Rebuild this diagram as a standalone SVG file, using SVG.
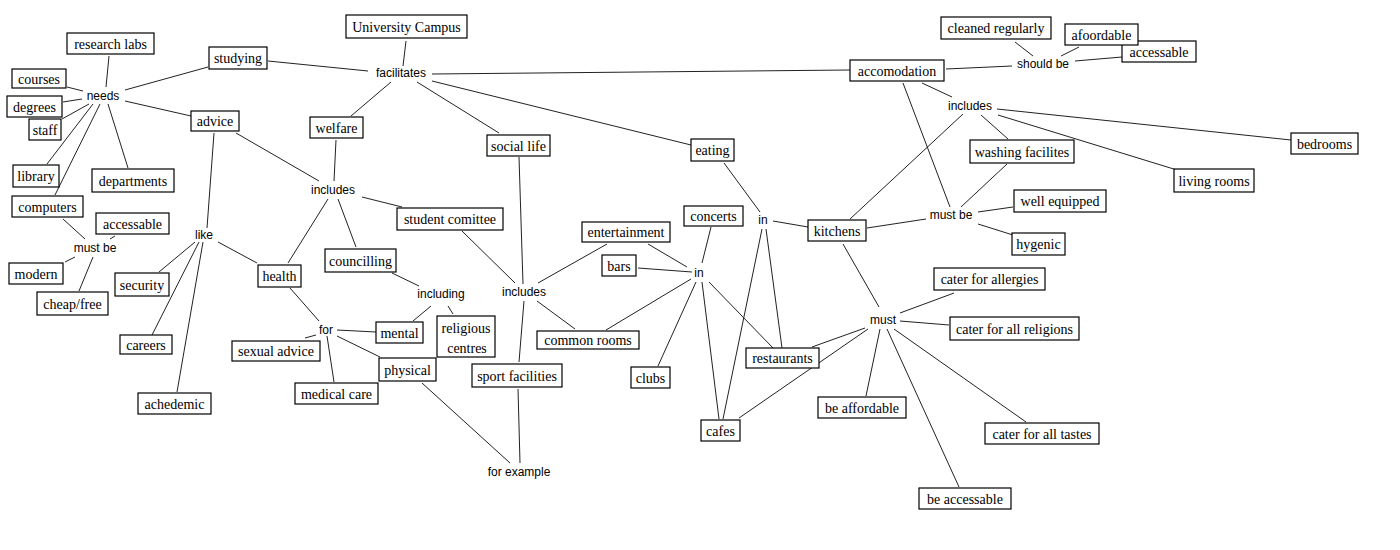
<svg xmlns="http://www.w3.org/2000/svg" width="1400" height="550" viewBox="0 0 1400 550">
<style>
.n rect{fill:#fff;stroke:#000;stroke-width:1.2}
.n text{font-family:"Liberation Serif","Times New Roman",serif;font-size:14px;fill:#000;text-anchor:middle}
.l text{font-family:"Liberation Sans",Arial,sans-serif;font-size:12px;fill:#000;text-anchor:middle}
#connectors line{stroke:#222;stroke-width:1}
</style>
<rect x="0" y="0" width="1400" height="550" fill="#fff"/>
<g id="connectors">
<line x1="109" y1="56" x2="106" y2="87"/>
<line x1="67" y1="87" x2="83" y2="91"/>
<line x1="63" y1="102" x2="82" y2="99"/>
<line x1="62" y1="119" x2="89" y2="104"/>
<line x1="93" y1="104" x2="47" y2="164"/>
<line x1="100" y1="104" x2="55" y2="195"/>
<line x1="108" y1="104" x2="128" y2="168"/>
<line x1="125" y1="90" x2="208" y2="67"/>
<line x1="125" y1="101" x2="191" y2="116"/>
<line x1="268" y1="61" x2="368" y2="71"/>
<line x1="214" y1="133" x2="207" y2="228"/>
<line x1="236" y1="133" x2="319" y2="181"/>
<line x1="63" y1="219" x2="85" y2="239"/>
<line x1="115" y1="236" x2="110" y2="239"/>
<line x1="75" y1="257" x2="65" y2="262"/>
<line x1="93" y1="257" x2="79" y2="291"/>
<line x1="195" y1="242" x2="159" y2="272"/>
<line x1="199" y1="242" x2="152" y2="335"/>
<line x1="203" y1="242" x2="177" y2="392"/>
<line x1="218" y1="242" x2="257" y2="263"/>
<line x1="406" y1="41" x2="403" y2="66"/>
<line x1="391" y1="82" x2="351" y2="116"/>
<line x1="417" y1="82" x2="499" y2="133"/>
<line x1="432" y1="74" x2="850" y2="70"/>
<line x1="432" y1="81" x2="691" y2="145"/>
<line x1="336" y1="140" x2="334" y2="181"/>
<line x1="362" y1="197" x2="402" y2="207"/>
<line x1="328" y1="199" x2="288" y2="263"/>
<line x1="338" y1="199" x2="356" y2="247"/>
<line x1="462" y1="231" x2="515" y2="283"/>
<line x1="519" y1="157" x2="523" y2="284"/>
<line x1="290" y1="288" x2="319" y2="321"/>
<line x1="392" y1="273" x2="419" y2="286"/>
<line x1="431" y1="306" x2="413" y2="321"/>
<line x1="448" y1="306" x2="453" y2="314"/>
<line x1="316" y1="335" x2="305" y2="338"/>
<line x1="337" y1="330" x2="376" y2="332"/>
<line x1="337" y1="336" x2="380" y2="357"/>
<line x1="327" y1="336" x2="334" y2="382"/>
<line x1="422" y1="383" x2="510" y2="463"/>
<line x1="518" y1="389" x2="520" y2="463"/>
<line x1="524" y1="301" x2="519" y2="362"/>
<line x1="537" y1="301" x2="575" y2="329"/>
<line x1="538" y1="283" x2="607" y2="244"/>
<line x1="648" y1="244" x2="687" y2="267"/>
<line x1="638" y1="268" x2="692" y2="272"/>
<line x1="711" y1="227" x2="702" y2="263"/>
<line x1="691" y1="279" x2="606" y2="330"/>
<line x1="696" y1="282" x2="658" y2="366"/>
<line x1="702" y1="282" x2="719" y2="419"/>
<line x1="709" y1="282" x2="773" y2="348"/>
<line x1="724" y1="163" x2="760" y2="212"/>
<line x1="773" y1="221" x2="808" y2="227"/>
<line x1="762" y1="229" x2="723" y2="419"/>
<line x1="766" y1="229" x2="782" y2="348"/>
<line x1="812" y1="347" x2="865" y2="328"/>
<line x1="868" y1="329" x2="739" y2="418"/>
<line x1="843" y1="244" x2="879" y2="307"/>
<line x1="900" y1="313" x2="954" y2="293"/>
<line x1="900" y1="321" x2="949" y2="325"/>
<line x1="880" y1="329" x2="866" y2="396"/>
<line x1="887" y1="329" x2="959" y2="487"/>
<line x1="894" y1="329" x2="1026" y2="422"/>
<line x1="946" y1="69" x2="1012" y2="66"/>
<line x1="1015" y1="42" x2="1033" y2="56"/>
<line x1="1079" y1="47" x2="1061" y2="56"/>
<line x1="1075" y1="61" x2="1122" y2="57"/>
<line x1="922" y1="83" x2="952" y2="97"/>
<line x1="903" y1="83" x2="950" y2="207"/>
<line x1="997" y1="109" x2="1291" y2="140"/>
<line x1="998" y1="115" x2="1177" y2="170"/>
<line x1="981" y1="115" x2="1008" y2="139"/>
<line x1="963" y1="114" x2="850" y2="219"/>
<line x1="1007" y1="164" x2="961" y2="207"/>
<line x1="926" y1="219" x2="867" y2="228"/>
<line x1="978" y1="212" x2="1013" y2="207"/>
<line x1="978" y1="224" x2="1013" y2="235"/>
</g>
<g id="linking">
<g class="l" id="lp-needs"><text x="103" y="100">needs</text></g>
<g class="l" id="lp-mustbe1"><text x="95" y="252">must be</text></g>
<g class="l" id="lp-like"><text x="204" y="239">like</text></g>
<g class="l" id="lp-facilitates"><text x="401" y="77">facilitates</text></g>
<g class="l" id="lp-includes1"><text x="333" y="194">includes</text></g>
<g class="l" id="lp-for"><text x="326" y="334">for</text></g>
<g class="l" id="lp-including"><text x="441" y="298">including</text></g>
<g class="l" id="lp-includes2"><text x="524" y="296">includes</text></g>
<g class="l" id="lp-forexample"><text x="519" y="476">for example</text></g>
<g class="l" id="lp-in2"><text x="699" y="277">in</text></g>
<g class="l" id="lp-in1"><text x="763" y="224">in</text></g>
<g class="l" id="lp-must"><text x="883" y="324">must</text></g>
<g class="l" id="lp-shouldbe"><text x="1043" y="68">should be</text></g>
<g class="l" id="lp-includes3"><text x="970" y="110">includes</text></g>
<g class="l" id="lp-mustbe2"><text x="951" y="219">must be</text></g>
</g>
<g id="nodes">
<g class="n" id="research-labs"><rect x="67" y="33" width="87" height="21"/><text x="110.5" y="48.5">research labs</text></g>
<g class="n" id="courses"><rect x="12" y="69" width="54" height="19"/><text x="39" y="83.5">courses</text></g>
<g class="n" id="degrees"><rect x="7" y="96" width="55" height="21"/><text x="34.5" y="111.5">degrees</text></g>
<g class="n" id="staff"><rect x="29" y="119" width="32" height="21"/><text x="45" y="134.5">staff</text></g>
<g class="n" id="library"><rect x="13" y="165" width="46" height="22"/><text x="36" y="181">library</text></g>
<g class="n" id="departments"><rect x="92" y="169" width="82" height="23"/><text x="133" y="185.5">departments</text></g>
<g class="n" id="computers"><rect x="12" y="196" width="71" height="21"/><text x="47.5" y="211.5">computers</text></g>
<g class="n" id="accessable1"><rect x="96" y="213" width="73" height="21"/><text x="132.5" y="228.5">accessable</text></g>
<g class="n" id="modern"><rect x="9" y="263" width="54" height="21"/><text x="36" y="278.5">modern</text></g>
<g class="n" id="cheap-free"><rect x="37" y="292" width="71" height="23"/><text x="72.5" y="308.5">cheap/free</text></g>
<g class="n" id="studying"><rect x="209" y="47" width="58" height="22"/><text x="238" y="63">studying</text></g>
<g class="n" id="advice"><rect x="191" y="111" width="48" height="20"/><text x="215" y="126">advice</text></g>
<g class="n" id="security"><rect x="115" y="273" width="54" height="23"/><text x="142" y="289.5">security</text></g>
<g class="n" id="careers"><rect x="120" y="335" width="52" height="19"/><text x="146" y="349.5">careers</text></g>
<g class="n" id="achedemic"><rect x="138" y="393" width="73" height="21"/><text x="174.5" y="408.5">achedemic</text></g>
<g class="n" id="health"><rect x="258" y="265" width="43" height="22"/><text x="279.5" y="281">health</text></g>
<g class="n" id="university-campus"><rect x="346" y="15" width="121" height="23"/><text x="406.5" y="31.5">University Campus</text></g>
<g class="n" id="welfare"><rect x="310" y="117" width="53" height="21"/><text x="336.5" y="132.5">welfare</text></g>
<g class="n" id="social-life"><rect x="487" y="135" width="63" height="21"/><text x="518.5" y="150.5">social life</text></g>
<g class="n" id="student-comittee"><rect x="397" y="208" width="106" height="22"/><text x="450" y="224">student comittee</text></g>
<g class="n" id="councilling"><rect x="325" y="249" width="71" height="23"/><text x="360.5" y="265.5">councilling</text></g>
<g class="n" id="mental"><rect x="376" y="322" width="47" height="21"/><text x="399.5" y="337.5">mental</text></g>
<g class="n" id="religious-centres"><rect x="437" y="316" width="58" height="41"/><text x="466" y="333">religious</text><text x="467" y="353">centres</text></g>
<g class="n" id="sexual-advice"><rect x="232" y="341" width="88" height="20"/><text x="276" y="356">sexual advice</text></g>
<g class="n" id="physical"><rect x="379" y="358" width="57" height="23"/><text x="407.5" y="374.5">physical</text></g>
<g class="n" id="medical-care"><rect x="295" y="383" width="83" height="21"/><text x="336.5" y="398.5">medical care</text></g>
<g class="n" id="sport-facilities"><rect x="472" y="364" width="90" height="23"/><text x="517" y="380.5">sport facilities</text></g>
<g class="n" id="common-rooms"><rect x="537" y="331" width="102" height="18"/><text x="588" y="345">common rooms</text></g>
<g class="n" id="entertainment"><rect x="582" y="222" width="88" height="20"/><text x="626" y="237">entertainment</text></g>
<g class="n" id="bars"><rect x="602" y="255" width="34" height="21"/><text x="619" y="270.5">bars</text></g>
<g class="n" id="concerts"><rect x="684" y="206" width="59" height="20"/><text x="713.5" y="221">concerts</text></g>
<g class="n" id="clubs"><rect x="631" y="367" width="39" height="21"/><text x="650.5" y="382.5">clubs</text></g>
<g class="n" id="eating"><rect x="691" y="139" width="43" height="22"/><text x="712.5" y="155">eating</text></g>
<g class="n" id="restaurants"><rect x="746" y="348" width="73" height="20"/><text x="782.5" y="363">restaurants</text></g>
<g class="n" id="cafes"><rect x="701" y="420" width="39" height="21"/><text x="720.5" y="435.5">cafes</text></g>
<g class="n" id="kitchens"><rect x="808" y="220" width="58" height="21"/><text x="837" y="235.5">kitchens</text></g>
<g class="n" id="accomodation"><rect x="850" y="60" width="94" height="21"/><text x="897" y="75.5">accomodation</text></g>
<g class="n" id="cleaned-regularly"><rect x="941" y="17" width="110" height="22"/><text x="996" y="33">cleaned regularly</text></g>
<g class="n" id="accessable2"><rect x="1122" y="41" width="74" height="21"/><text x="1159" y="56.5">accessable</text></g>
<g class="n" id="afoordable"><rect x="1065" y="24" width="73" height="21"/><text x="1101.5" y="39.5">afoordable</text></g>
<g class="n" id="washing-facilites"><rect x="970" y="140" width="104" height="23"/><text x="1022" y="156.5">washing facilites</text></g>
<g class="n" id="living-rooms"><rect x="1174" y="169" width="80" height="23"/><text x="1214" y="185.5">living rooms</text></g>
<g class="n" id="bedrooms"><rect x="1291" y="133" width="67" height="21"/><text x="1324.5" y="148.5">bedrooms</text></g>
<g class="n" id="well-equipped"><rect x="1014" y="190" width="92" height="22"/><text x="1060" y="206">well equipped</text></g>
<g class="n" id="hygenic"><rect x="1012" y="233" width="53" height="22"/><text x="1038.5" y="249">hygenic</text></g>
<g class="n" id="cater-allergies"><rect x="934" y="268" width="111" height="22"/><text x="989.5" y="284">cater for allergies</text></g>
<g class="n" id="cater-religions"><rect x="950" y="317" width="129" height="23"/><text x="1014.5" y="333.5">cater for all religions</text></g>
<g class="n" id="be-affordable"><rect x="818" y="397" width="88" height="21"/><text x="862" y="412.5">be affordable</text></g>
<g class="n" id="cater-tastes"><rect x="985" y="423" width="114" height="21"/><text x="1042" y="438.5">cater for all tastes</text></g>
<g class="n" id="be-accessable"><rect x="919" y="488" width="92" height="21"/><text x="965" y="503.5">be accessable</text></g>
</g>
</svg>
